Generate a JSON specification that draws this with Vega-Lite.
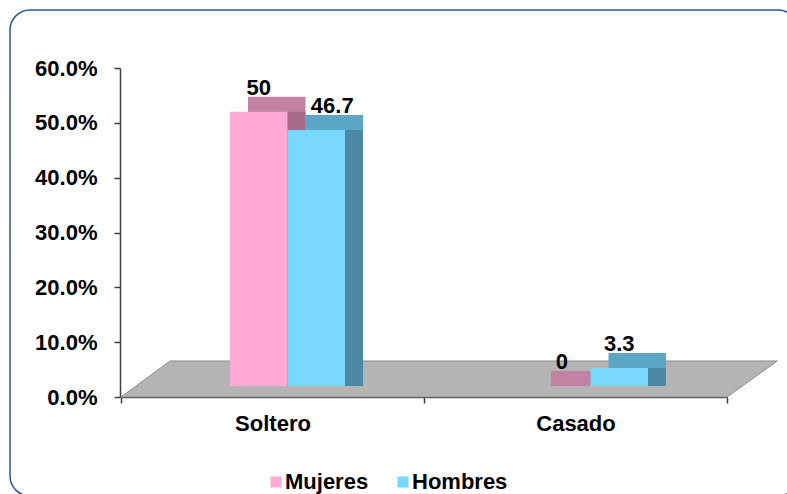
{
  "$schema": "https://vega.github.io/schema/vega-lite/v6.json",
  "autosize": "none",
  "padding": {"left": 10, "top": 10, "right": -11, "bottom": -2},
  "width": 788,
  "height": 486,
  "background": "white",
  "config": {
    "font": "Liberation Sans",
    "view": {"stroke": "#2B5797", "strokeWidth": 1.5, "cornerRadius": 20}
  },
  "datasets": {
    "bars": [
      {"estado": "Soltero", "genero": "Mujeres", "valor": 50},
      {"estado": "Soltero", "genero": "Hombres", "valor": 46.7},
      {"estado": "Casado", "genero": "Mujeres", "valor": 0},
      {"estado": "Casado", "genero": "Hombres", "valor": 3.3}
    ],
    "floor": [
      {"p": 0, "top": 0, "bottom": 0},
      {"p": 0.081, "top": 6.57, "bottom": 0},
      {"p": 1, "top": 6.57, "bottom": 0},
      {"p": 1.083, "top": 6.57, "bottom": 6.57}
    ]
  },
  "resolve": {"scale": {"x": "independent", "y": "independent"}},
  "layer": [
    {
      "data": {"name": "floor"},
      "mark": {"type": "area", "fill": "#B4B4B4", "stroke": "#8C8C8C", "strokeWidth": 1},
      "encoding": {
        "x": {"field": "p", "type": "quantitative", "scale": {"domain": [0, 1], "range": [111, 717], "nice": false, "zero": false}, "axis": null},
        "y": {"field": "top", "type": "quantitative", "scale": {"domain": [0, 60], "range": [387, 58], "nice": false},
          "axis": {"title": null, "values": [0, 10, 20, 30, 40, 50, 60], "labelExpr": "format(datum.value, '.1f') + '%'", "grid": false, "offset": -110, "tickSize": 6, "tickColor": "#404040", "domainColor": "#404040", "domainWidth": 1.5, "tickWidth": 1.5, "labelFontSize": 22, "labelFontWeight": "bold", "labelColor": "#000000", "labelPadding": 17}},
        "y2": {"field": "bottom"}
      }
    },
    {
      "data": {"name": "bars"},
      "resolve": {"scale": {"xOffset": "independent", "y": "independent"}},
      "layer": [
        {
          "mark": {"type": "bar"},
          "encoding": {
            "xOffset": {"field": "genero", "type": "nominal", "sort": ["Mujeres", "Hombres"], "scale": {"range": [127, 242], "paddingInner": 0, "paddingOuter": 0}},
            "y": {"field": "valor", "type": "quantitative", "scale": {"domain": [0, 60], "range": [361, 32], "nice": false}, "axis": null},
            "y2": {"datum": -2.74},
            "fill": {"condition": {"test": "datum.genero === 'Mujeres'", "value": "#C282A4"}, "value": "#5AA6C4"}
          }
        },
        {
          "mark": {"type": "bar"},
          "encoding": {
            "xOffset": {"field": "genero", "type": "nominal", "sort": ["Mujeres", "Hombres"], "scale": {"range": [127, 242], "paddingInner": 0, "paddingOuter": 0}},
            "y": {"field": "valor", "type": "quantitative", "scale": {"domain": [0, 60], "range": [376, 47], "nice": false}, "axis": null},
            "y2": {"datum": 0},
            "fill": {"condition": {"test": "datum.genero === 'Mujeres'", "value": "#A66A8A"}, "value": "#4A89A4"}
          }
        },
        {
          "mark": {"type": "bar"},
          "encoding": {
            "xOffset": {"field": "genero", "type": "nominal", "sort": ["Mujeres", "Hombres"], "scale": {"range": [109, 224], "paddingInner": 0, "paddingOuter": 0}},
            "y": {"field": "valor", "type": "quantitative", "scale": {"domain": [0, 60], "range": [376, 47], "nice": false}, "axis": null},
            "y2": {"datum": 0},
            "color": {"field": "genero", "type": "nominal", "scale": {"domain": ["Mujeres", "Hombres"], "range": ["#FFAAD4", "#77D7FD"]},
              "legend": {"title": null, "orient": "none", "legendX": 255, "legendY": 461, "direction": "horizontal", "symbolType": "square", "symbolSize": 121, "symbolStrokeWidth": 0, "labelFontSize": 22, "labelFontWeight": "bold", "labelColor": "#000000", "columnPadding": 23, "labelOffset": -2, "padding": 0}}
          }
        },
        {
          "transform": [{"filter": "!(datum.estado === 'Soltero' && datum.genero === 'Hombres')"}],
          "mark": {"type": "text", "baseline": "alphabetic", "align": "center", "fontSize": 22, "fontWeight": "bold", "color": "#000000"},
          "encoding": {
            "xOffset": {"field": "genero", "type": "nominal", "sort": ["Mujeres", "Hombres"], "scale": {"domain": ["Mujeres", "Hombres"], "range": [137.75, 195.25], "padding": 0}},
            "y": {"field": "valor", "type": "quantitative", "scale": {"domain": [0, 60], "range": [359, 30], "nice": false}, "axis": null},
            "text": {"field": "valor", "type": "nominal"}
          }
        },
        {
          "transform": [{"filter": "datum.estado === 'Soltero' && datum.genero === 'Hombres'"}],
          "mark": {"type": "text", "baseline": "alphabetic", "align": "center", "fontSize": 22, "fontWeight": "bold", "color": "#000000", "dx": 16},
          "encoding": {
            "xOffset": {"field": "genero", "type": "nominal", "sort": ["Mujeres", "Hombres"], "scale": {"domain": ["Mujeres", "Hombres"], "range": [137.75, 195.25], "padding": 0}},
            "y": {"field": "valor", "type": "quantitative", "scale": {"domain": [0, 60], "range": [359, 30], "nice": false}, "axis": null},
            "text": {"field": "valor", "type": "nominal"}
          }
        }
      ],
      "encoding": {
        "x": {"field": "estado", "type": "nominal", "sort": ["Soltero", "Casado"],
          "scale": {"range": [111, 717], "paddingInner": 0, "paddingOuter": 0},
          "axis": {"title": null, "labelAngle": 0, "offset": -99, "tickBand": "extent", "tickSize": 6, "tickColor": "#404040", "tickWidth": 1.5, "domainColor": "#404040", "domainWidth": 1.5, "labelFontSize": 22, "labelFontWeight": "bold", "labelColor": "#000000", "labelPadding": 10}}
      }
    }
  ]
}
